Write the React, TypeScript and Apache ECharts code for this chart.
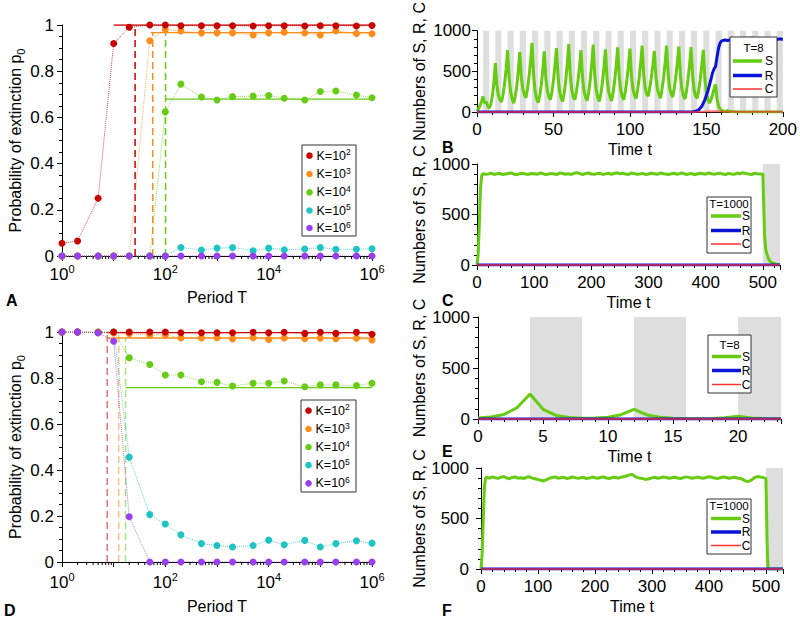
import React, { useEffect, useRef } from 'react';
import * as echarts from 'echarts';

const FONT = '"Liberation Sans", Arial, Helvetica, sans-serif';

// ---------- Panels A and D : extinction probability vs period ----------
const periods = [1, 2, 5, 10, 20, 50, 100, 200, 500, 1000, 2000, 5000, 1e4, 2e4, 5e4, 1e5, 2e5, 5e5, 1e6];
const kExp = ['2', '3', '4', '5', '6'];
const kColors = ['#c80000', '#ff8c1a', '#66cc11', '#1cc4c4', '#9a3ff0'];

const probA_K2 = [0.055, 0.065, 0.25, 0.92, 0.99, 1.0, 1.0, 0.997, 0.997, 0.997, 0.997, 0.996, 0.997, 0.997, 0.996, 0.997, 0.997, 0.996, 0.998];
const probA_K3 = [0, 0, 0, 0, 0, 0.932, 0.98, 0.974, 0.966, 0.966, 0.966, 0.957, 0.966, 0.969, 0.965, 0.957, 0.975, 0.963, 0.962];
const probA_K4 = [0, 0, 0, 0, 0, 0, 0.624, 0.744, 0.688, 0.675, 0.69, 0.692, 0.695, 0.683, 0.675, 0.712, 0.714, 0.697, 0.685];
const probA_K5 = [0, 0, 0, 0, 0, 0, 0, 0.037, 0.026, 0.034, 0.037, 0.023, 0.034, 0.027, 0.03, 0.037, 0.029, 0.029, 0.031];
const probA_K6 = [0, 0, 0, 0, 0, 0, 0, 0, 0, 0, 0, 0, 0, 0, 0, 0, 0, 0, 0];

const probD_K2 = [1, 1, 0.997, 1, 1, 1, 1, 0.997, 0.997, 0.997, 0.997, 0.999, 0.997, 0.999, 0.994, 0.999, 0.994, 0.999, 0.99];
const probD_K3 = [1, 1, 1, 0.996, 0.993, 0.987, 0.987, 0.974, 0.974, 0.975, 0.97, 0.975, 0.967, 0.974, 0.971, 0.973, 0.971, 0.973, 0.965];
const probD_K4 = [1, 1, 1, 1, 0.888, 0.859, 0.813, 0.813, 0.784, 0.781, 0.765, 0.777, 0.777, 0.787, 0.762, 0.77, 0.77, 0.767, 0.777];
const probD_K5 = [1, 1, 1, 1, 0.456, 0.206, 0.165, 0.118, 0.08, 0.072, 0.065, 0.072, 0.095, 0.075, 0.094, 0.065, 0.08, 0.092, 0.082];
const probD_K6 = [1, 1, 0.997, 0.96, 0.197, 0, 0, 0, 0, 0, 0, 0, 0, 0, 0, 0, 0, 0, 0];

// critical period (dashed) and asymptotic extinction probability (solid) for K=10^2,10^3,10^4
const critA = [26, 57, 101];
const dashTopA = [1.0, 0.967, 0.98];
const plateauA = [1.0, 0.967, 0.679];
const plateauStartA = [10, 52, 101];

const critD = [7.5, 12.5, 17];
const dashTopD = [1.0, 0.99, 0.975];
const plateauD = [0.997, 0.974, 0.758];
const plateauStartD = [7.5, 7.5, 17];

// ---------- Panel B : T=8, t in [0,200] ----------
const bS = [
  10, 40, 80, 130, 190, 110, 125, 70,
  45, 95, 190, 350, 600, 330, 200, 150,
  125, 210, 340, 520, 760, 420, 250, 160,
  108, 190, 320, 500, 740, 430, 280, 210,
  175, 280, 430, 620, 850, 460, 260, 160,
  115, 200, 330, 510, 745, 420, 260, 185,
  150, 250, 390, 570, 785, 440, 260, 170,
  130, 230, 380, 580, 835, 460, 270, 185,
  150, 250, 380, 550, 760, 430, 260, 180,
  140, 240, 390, 580, 830, 460, 270, 175,
  130, 225, 360, 540, 770, 430, 260, 180,
  135, 235, 380, 560, 795, 450, 270, 190,
  150, 250, 390, 560, 780, 450, 280, 210,
  165, 270, 410, 590, 815, 470, 290, 220,
  195, 300, 420, 570, 750, 440, 280, 210,
  170, 280, 420, 600, 815, 470, 290, 220,
  185, 290, 430, 600, 805, 460, 280, 200,
  160, 260, 400, 580, 800, 450, 270, 190,
  170, 270, 400, 570, 765, 420, 240, 150,
  110, 150, 210, 280, 340, 160, 70, 35,
  20, 12, 8, 12, 15, 10, 5, 3,
  2, 2, 1, 1, 1, 0, 0, 0,
  0, 0, 0, 0, 0, 0, 0, 0,
  0, 0, 0, 0, 0, 0, 0, 0,
  0, 0, 0, 0, 0, 0, 0, 0,
  0,
];
const bR: number[][] = [
  [0, 0], [138, 0], [141, 3], [143, 10], [145, 25], [147, 70], [149, 150], [151, 260], [152, 330],
  [153, 400], [154, 480], [155, 530], [156, 560], [157, 680], [158, 790], [159, 850], [160, 875],
  [162, 885], [164, 880], [166, 890], [168, 875], [170, 870], [172, 862], [174, 885], [176, 905],
  [178, 900], [180, 910], [182, 895], [184, 888], [186, 895], [188, 880], [190, 885], [192, 895],
  [194, 885], [196, 890], [198, 900], [200, 892],
];
const bC: number[][] = [[0, 0], [145, 0], [150, 5], [155, 8], [160, 6], [170, 4], [200, 4]];
const bDrug: number[][] = [
  [4, 8], [12, 16], [20, 24], [28, 32], [36, 40], [44, 48], [52, 56], [60, 64], [68, 72], [76, 80],
  [84, 88], [92, 96], [100, 104], [108, 112], [116, 120], [124, 128], [132, 136], [140, 144],
  [148, 152], [156, 160], [164, 168], [172, 176], [180, 184], [188, 192], [196, 200],
];

// ---------- Panel C : T=1000, t in [0,530] ----------
const cRise: number[][] = [[0, 0], [2, 100], [4, 400], [6, 750], [8, 880]];
const cPlateauStart = 10;
const cPlateauStep = 5;
const cPlateau = [
  905, 898, 902, 909, 896, 903, 907, 895, 901, 906, 911, 899, 894, 904, 908, 900, 897, 906, 903, 898,
  910, 905, 895, 901, 907, 902, 897, 912, 906, 899, 903, 896, 909, 914, 905, 896, 907, 911, 901, 898,
  905, 909, 896, 902, 908, 899, 906, 913, 903, 908, 900, 897, 911, 905, 898, 902, 907, 895, 901, 909,
  904, 898, 910, 906, 900, 896, 903, 908, 899, 905, 910, 897, 902, 906, 894, 901, 908, 904, 899, 911,
  903, 897, 905, 909, 900, 896, 907, 902, 898, 910, 904, 913, 906, 901, 895, 908, 903, 900,
];
const cFall: number[][] = [[500, 900], [501, 700], [503, 300], [505, 160], [507, 110], [510, 60], [513, 33], [518, 18], [524, 8], [530, 3]];
const cR: number[][] = [[0, 0], [530, 0]];
const cC: number[][] = [[0, 0], [530, 0]];
const cDrug: number[][] = [[500, 530]];

// ---------- Panel E : T=8, t in [0,23.3] ----------
const eS: number[][] = [
  [0, 10], [1, 20], [2, 45], [3, 110], [4, 245], [5, 95], [6, 35], [7, 14], [8, 8], [9, 9], [10, 18],
  [11, 42], [12, 95], [13, 40], [14, 18], [15, 8], [16, 4], [17, 3], [18, 5], [19, 12], [20, 28],
  [21, 11], [22, 4], [23, 2], [23.3, 2],
];
const eR: number[][] = [[0, 0], [23.3, 0]];
const eC: number[][] = [[0, 0], [23.3, 0]];
const eDrug: number[][] = [[4, 8], [12, 16], [20, 23.3]];

// ---------- Panel F : T=1000, t in [0,530] ----------
const fRise: number[][] = [[0, 0], [2, 150], [4, 500], [6, 820], [8, 900]];
const fPlateau = [
  908, 900, 912, 903, 897, 909, 915, 901, 894, 906, 911, 899, 904, 896, 908, 913, 900, 893, 887, 878,
  872, 885, 898, 906, 912, 899, 903, 909, 896, 901, 911, 905, 897, 903, 908, 895, 900, 910, 904, 898,
  906, 912, 901, 896, 905, 909, 899, 907, 914, 921, 932, 936, 918, 905, 898, 893, 887, 894, 902, 908,
  899, 904, 911, 906, 898, 903, 909, 901, 896, 905, 912, 907, 899, 903, 910, 904, 897, 906, 913, 908,
  900, 895, 904, 910, 906, 899, 903, 909, 901, 897, 884, 870, 866, 882, 904, 915, 910, 907,
];
const fFall: number[][] = [[500, 895], [501, 600], [502, 300], [503, 80], [504, 10], [505, 0], [530, 0]];
const fR: number[][] = [[0, 0], [530, 0]];
const fC: number[][] = [[0, 0], [530, 0]];
const fDrug: number[][] = [[500, 530]];

const S_COLOR = '#66cc11';
const R_COLOR = '#0a14d8';
const C_COLOR = '#ff3030';
const GRAY = '#dedede';

function plateauPairs(vals: number[], start: number, step: number, end: number) {
  return vals.map((v, i) => [start + step * i, v]).filter((p) => p[0] < end);
}

function logX(gi: number, labelMargin: number, nameGap: number) {
  return {
    type: 'log', gridIndex: gi, logBase: 10, min: 1, max: 1e6,
    axisLine: { show: true, onZero: false, lineStyle: { color: '#000', width: 1 } },
    axisTick: { show: true, length: 5, inside: false, lineStyle: { color: '#000' } },
    splitLine: { show: false },
    minorTick: { show: false },
    axisLabel: {
      interval: 0, margin: labelMargin,
      formatter: (v: number) => {
        const e = Math.round(Math.log10(v));
        if (e % 2 !== 0) return '';
        return '{b|10}{s|' + e + '}';
      },
      rich: {
        b: { fontSize: 17, fontFamily: FONT, color: '#000', lineHeight: 22 },
        s: { fontSize: 11, fontFamily: FONT, color: '#000', lineHeight: 12, verticalAlign: 'top' },
      },
    },
    name: 'Period T', nameLocation: 'middle', nameGap,
    nameTextStyle: { fontSize: 16, fontFamily: FONT, color: '#000' },
  };
}

function probY(gi: number) {
  return {
    type: 'value', gridIndex: gi, min: 0, max: 1, interval: 0.2,
    axisLine: { show: true, onZero: false, lineStyle: { color: '#000', width: 1 } },
    axisTick: { show: true, length: 5, lineStyle: { color: '#000' } },
    minorTick: { show: true, splitNumber: 4, length: 3, lineStyle: { color: '#000' } },
    splitLine: { show: false },
    minorSplitLine: { show: false },
    axisLabel: { fontSize: 17, fontFamily: FONT, color: '#000', margin: 8 },
    name: '{n|Probability of extinction p}{sub|0}', nameLocation: 'middle', nameGap: 36,
    nameTextStyle: {
      fontSize: 16, fontFamily: FONT, color: '#000',
      rich: {
        n: { fontSize: 16, fontFamily: FONT, color: '#000', lineHeight: 22 },
        sub: { fontSize: 11, fontFamily: FONT, color: '#000', lineHeight: 12, verticalAlign: 'bottom' },
      },
    },
  };
}

function timeX(gi: number, max: number, interval: number, showMax: boolean) {
  return {
    type: 'value', gridIndex: gi, min: 0, max, interval,
    axisLine: { show: true, onZero: false, lineStyle: { color: '#000', width: 1 } },
    axisTick: { show: true, length: 5, lineStyle: { color: '#000' } },
    minorTick: { show: true, splitNumber: 5, length: 3, lineStyle: { color: '#000' } },
    splitLine: { show: false },
    minorSplitLine: { show: false },
    axisLabel: {
      fontSize: 17, fontFamily: FONT, color: '#000', margin: 9, showMaxLabel: showMax,
      formatter: (v: number) => String(v),
    },
    name: 'Time t', nameLocation: 'middle', nameGap: 29,
    nameTextStyle: { fontSize: 16, fontFamily: FONT, color: '#000' },
  };
}

function timeY(gi: number, labelMargin: number, nameGap: number) {
  return {
    type: 'value', gridIndex: gi, min: 0, max: 1000, interval: 500,
    axisLine: { show: true, onZero: false, lineStyle: { color: '#000', width: 1 } },
    axisTick: { show: true, length: 5, lineStyle: { color: '#000' } },
    minorTick: { show: true, splitNumber: 5, length: 3, lineStyle: { color: '#000' } },
    splitLine: { show: false },
    minorSplitLine: { show: false },
    axisLabel: {
      fontSize: 17, fontFamily: FONT, color: '#000', margin: labelMargin,
      formatter: (v: number) => String(v),
    },
    name: 'Numbers of S, R, C', nameLocation: 'middle', nameGap,
    nameTextStyle: { fontSize: 16, fontFamily: FONT, color: '#000' },
  };
}

function probSeries(gi: number, probs: number[][]) {
  const order = [3, 2, 1, 0, 4];
  return order.map((k) => ({
    type: 'line', xAxisIndex: gi, yAxisIndex: gi, silent: true, z: 4,
    data: periods.map((T, i) => [T, probs[k][i]]),
    symbol: 'circle', symbolSize: 7, showSymbol: true, showAllSymbol: true,
    itemStyle: { color: kColors[k] },
    lineStyle: { color: kColors[k], width: 1, type: 'dotted', opacity: 0.7 },
    emphasis: { disabled: true },
  }));
}

function refLines(gi: number, crit: number[], dashTop: number[], plateau: number[], start: number[], dashOpacity: number) {
  const out: any[] = [];
  for (let k = 0; k < 3; k++) {
    out.push({
      type: 'line', xAxisIndex: gi, yAxisIndex: gi, silent: true, z: 3, symbol: 'none',
      data: [[crit[k], 0], [crit[k], dashTop[k]]],
      lineStyle: { color: kColors[k], width: 1.5, type: [7, 4], opacity: dashOpacity },
      emphasis: { disabled: true },
    });
    out.push({
      type: 'line', xAxisIndex: gi, yAxisIndex: gi, silent: true, z: 3, symbol: 'none',
      data: [[start[k], plateau[k]], [1e6, plateau[k]]],
      lineStyle: { color: kColors[k], width: 1.3 },
      emphasis: { disabled: true },
    });
  }
  return out;
}

const minorLogTicks: number[] = [];
for (let e = 0; e < 6; e++) for (let m = 2; m <= 9; m++) minorLogTicks.push(m * Math.pow(10, e));

function minorTickSeries(gi: number) {
  return {
    type: 'custom', xAxisIndex: gi, yAxisIndex: gi, silent: true, clip: false, z: 1,
    data: minorLogTicks.map((v) => [v, 0]),
    renderItem: (_params: any, api: any) => {
      const p = api.coord([api.value(0), 0]);
      return { type: 'line', shape: { x1: p[0], y1: p[1], x2: p[0], y2: p[1] + 3 }, style: { stroke: '#000', lineWidth: 1 } };
    },
  };
}

function tsSeries(gi: number, s: number[][], r: number[][], c: number[][], drug: number[][]) {
  return [
    {
      type: 'line', xAxisIndex: gi, yAxisIndex: gi, silent: true, z: 1, symbol: 'none',
      data: [[0, 0]], lineStyle: { opacity: 0 },
      markArea: { silent: true, itemStyle: { color: GRAY }, data: drug.map((d) => [{ xAxis: d[0] }, { xAxis: d[1] }]) },
    },
    {
      type: 'line', xAxisIndex: gi, yAxisIndex: gi, silent: true, z: 3, symbol: 'none', data: s,
      lineStyle: { color: S_COLOR, width: 3 }, emphasis: { disabled: true },
    },
    {
      type: 'line', xAxisIndex: gi, yAxisIndex: gi, silent: true, z: 4, symbol: 'none', data: r,
      lineStyle: { color: R_COLOR, width: 3 }, emphasis: { disabled: true },
    },
    {
      type: 'line', xAxisIndex: gi, yAxisIndex: gi, silent: true, z: 5, symbol: 'none', data: c,
      lineStyle: { color: C_COLOR, width: 2, opacity: 0.65 }, emphasis: { disabled: true },
    },
  ];
}

function tsLegend(box: number[], title: string, titleY: number, rowY: number[], lx1: number, lx2: number, tx: number) {
  const [x, y, w, h] = box;
  const els: any[] = [
    { type: 'rect', shape: { x, y, width: w, height: h }, style: { fill: '#fff', stroke: '#333', lineWidth: 1 }, z: 50 },
    { type: 'text', x: x + w / 2, y: titleY, z: 51, style: { text: title, fontSize: 11.5, fontFamily: FONT, fill: '#000', align: 'center', verticalAlign: 'middle' } },
  ];
  const names = ['S', 'R', 'C'];
  const cols = [S_COLOR, R_COLOR, C_COLOR];
  const widths = [3.5, 3.5, 1.5];
  for (let i = 0; i < 3; i++) {
    els.push({ type: 'line', z: 51, shape: { x1: lx1, y1: rowY[i], x2: lx2, y2: rowY[i] }, style: { stroke: cols[i], lineWidth: widths[i] } });
    els.push({ type: 'text', x: tx, y: rowY[i], z: 51, style: { text: names[i], fontSize: 12, fontFamily: FONT, fill: '#000', align: 'center', verticalAlign: 'middle' } });
  }
  return els;
}

function kLegend(box: number[], rowY: number[]) {
  const [x, y, w, h] = box;
  const els: any[] = [
    { type: 'rect', shape: { x, y, width: w, height: h }, style: { fill: '#fff', stroke: '#333', lineWidth: 1 }, z: 50 },
  ];
  for (let k = 0; k < 5; k++) {
    els.push({ type: 'circle', z: 51, shape: { cx: x + 7.5, cy: rowY[k], r: 3.3 }, style: { fill: kColors[k] } });
    els.push({
      type: 'text', x: x + 14.5, y: rowY[k], z: 51,
      style: {
        text: '{b|K=10}{s|' + kExp[k] + '}', verticalAlign: 'middle', align: 'left',
        rich: {
          b: { fontSize: 12.5, fontFamily: FONT, fill: '#000', color: '#000', lineHeight: 16 },
          s: { fontSize: 8.5, fontFamily: FONT, fill: '#000', color: '#000', lineHeight: 9, verticalAlign: 'top' },
        },
      },
    });
  }
  return els;
}

function letter(t: string, x: number, y: number) {
  return {
    type: 'text', x, y, z: 60,
    style: { text: t, font: 'bold 16px "Liberation Sans", Arial, sans-serif', fill: '#000', verticalAlign: 'middle' },
  };
}

function buildOption() {
  const cS = [...cRise, ...plateauPairs(cPlateau, cPlateauStart, cPlateauStep, 500), ...cFall];
  const fS = [...fRise, ...plateauPairs(fPlateau, cPlateauStart, cPlateauStep, 500), ...fFall];
  const bSPairs = bS.map((v, t) => [t, v]);

  return {
    animation: false,
    backgroundColor: '#fff',
    textStyle: { fontFamily: FONT },
    grid: [
      { left: 62, top: 25, width: 310, height: 231 },
      { left: 62, top: 332, width: 310, height: 230 },
      { left: 477, top: 10, width: 309, height: 102 },
      { left: 477, top: 164, width: 303, height: 101 },
      { left: 478, top: 317, width: 303, height: 102 },
      { left: 481, top: 468, width: 302, height: 101 },
    ],
    xAxis: [
      logX(0, 7, 33),
      logX(1, 9, 36),
      timeX(2, 200, 50, true),
      timeX(3, 530, 100, false),
      timeX(4, 23.3, 5, false),
      timeX(5, 530, 100, false),
    ],
    yAxis: [
      probY(0),
      probY(1),
      timeY(2, 6, 50),
      timeY(3, 7, 50),
      timeY(4, 8, 51),
      timeY(5, 12, 53),
    ],
    series: [
      minorTickSeries(0),
      minorTickSeries(1),
      ...refLines(0, critA, dashTopA, plateauA, plateauStartA, 1),
      ...refLines(1, critD, dashTopD, plateauD, plateauStartD, 0.55),
      ...probSeries(0, [probA_K2, probA_K3, probA_K4, probA_K5, probA_K6]),
      ...probSeries(1, [probD_K2, probD_K3, probD_K4, probD_K5, probD_K6]),
      ...tsSeries(2, bSPairs, bR, bC, bDrug),
      ...tsSeries(3, cS, cR, cC, cDrug),
      ...tsSeries(4, eS, eR, eC, eDrug),
      ...tsSeries(5, fS, fR, fC, fDrug),
    ],
    graphic: {
      elements: [
        ...kLegend([302, 145, 54, 91], [155.7, 174, 192.3, 210.5, 228]),
        ...kLegend([301, 400, 55, 92], [410.7, 429, 447, 465.2, 483.3]),
        ...tsLegend([730, 37, 47, 60], 'T=8', 48, [61, 75.5, 89], 733, 762, 769),
        ...tsLegend([707, 197, 44, 56], 'T=1000', 203.5, [216, 230.5, 244], 711, 741, 746),
        ...tsLegend([708, 335, 43, 58], 'T=8', 345, [356.5, 370.5, 384.5], 712, 741, 746),
        ...tsLegend([707, 499, 44, 55], 'T=1000', 505.5, [518.5, 532, 545.5], 711, 741, 746),
        letter('A', 6, 300),
        letter('D', 4, 610),
        letter('B', 442, 147),
        letter('C', 442, 300),
        letter('E', 442, 451),
        letter('F', 442, 610),
      ],
    },
  };
}

export default function App() {
  const ref = useRef<HTMLDivElement>(null);
  useEffect(() => {
    if (!ref.current) return;
    const chart = echarts.init(ref.current, null, { renderer: 'svg' });
    chart.setOption(buildOption() as any);
    return () => chart.dispose();
  }, []);
  return (
    <div
      ref={ref}
      style={{ position: 'fixed', left: 0, top: 0, width: 800, height: 618, background: '#fff' }}
    />
  );
}
